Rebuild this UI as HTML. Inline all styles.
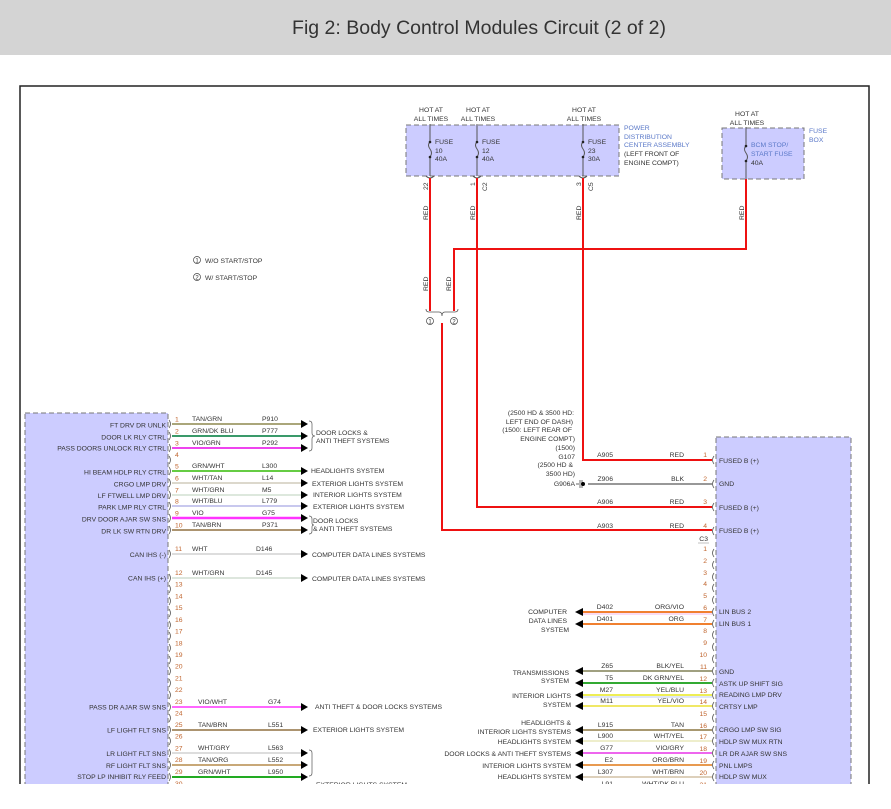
<!DOCTYPE html>
<html><head><meta charset="utf-8"><style>
html,body{margin:0;padding:0;background:#fff;width:891px;height:809px;overflow:hidden}
svg text{font-family:"Liberation Sans",Arial,sans-serif;font-size:6.8px;fill:#333}
.pn{fill:#c0652e}
.bl{fill:#5a78c8}
.e{text-anchor:end}
</style></head><body>
<svg width="891" height="809" viewBox="0 0 891 809" xmlns="http://www.w3.org/2000/svg">
<rect x="0" y="0" width="891" height="55" fill="#d4d4d4"/>
<text x="479" y="34" text-anchor="middle" style="font-size:19.5px;fill:#333">Fig 2: Body Control Modules Circuit (2 of 2)</text>
<path d="M20,789 V86 H869 V789" fill="none" stroke="#222" stroke-width="1.5"/>

<rect x="406" y="125" width="213" height="51" fill="#ccccff" stroke="#777" stroke-dasharray="5,3"/>
<rect x="722" y="128" width="82" height="51" fill="#ccccff" stroke="#777" stroke-dasharray="5,3"/>
<g stroke="#555" stroke-width="1" fill="none">
<path d="M430,124 V142 M430,157 V176 M430,142 q-3,3 0,7 q3,4 0,8"/>
<path d="M477,124 V142 M477,157 V176 M477,142 q-3,3 0,7 q3,4 0,8"/>
<path d="M583,124 V142 M583,157 V176 M583,142 q-3,3 0,7 q3,4 0,8"/>
<path d="M746,127 V146 M746,161 V180 M746,146 q-3,3 0,7 q3,4 0,8"/>
<path d="M426,176 q4,4 8,0 M473,176 q4,4 8,0 M579,176 q4,4 8,0"/>
</g>
<g fill="#222"><circle cx="430" cy="142" r="1.3"/><circle cx="430" cy="157" r="1.3"/><circle cx="477" cy="142" r="1.3"/><circle cx="477" cy="157" r="1.3"/><circle cx="583" cy="142" r="1.3"/><circle cx="583" cy="157" r="1.3"/><circle cx="746" cy="146" r="1.3"/><circle cx="746" cy="161" r="1.3"/></g>
<text x="431" y="112" text-anchor="middle">HOT AT</text><text x="431" y="121" text-anchor="middle">ALL TIMES</text>
<text x="478" y="112" text-anchor="middle">HOT AT</text><text x="478" y="121" text-anchor="middle">ALL TIMES</text>
<text x="584" y="112" text-anchor="middle">HOT AT</text><text x="584" y="121" text-anchor="middle">ALL TIMES</text>
<text x="747" y="116" text-anchor="middle">HOT AT</text><text x="747" y="125" text-anchor="middle">ALL TIMES</text>
<text x="435" y="144">FUSE</text><text x="435" y="153">10</text><text x="435" y="161">40A</text>
<text x="482" y="144">FUSE</text><text x="482" y="153">12</text><text x="482" y="161">40A</text>
<text x="588" y="144">FUSE</text><text x="588" y="153">23</text><text x="588" y="161">30A</text>
<text x="751" y="147" class="bl">BCM STOP/</text><text x="751" y="156" class="bl">START FUSE</text><text x="751" y="165">40A</text>
<text x="624" y="130" class="bl">POWER</text><text x="624" y="139" class="bl">DISTRIBUTION</text><text x="624" y="147" class="bl">CENTER ASSEMBLY</text><text x="624" y="156">(LEFT FRONT OF</text><text x="624" y="165">ENGINE COMPT)</text>
<text x="809" y="133" class="bl">FUSE</text><text x="809" y="142" class="bl">BOX</text>
<g style="font-size:6.5px">
<text transform="translate(428,190) rotate(-90)">22</text>
<text transform="translate(475,186) rotate(-90)">1</text>
<text transform="translate(487,191) rotate(-90)">C2</text>
<text transform="translate(581,186) rotate(-90)">3</text>
<text transform="translate(593,191) rotate(-90)">C5</text>
<text transform="translate(428,220) rotate(-90)">RED</text>
<text transform="translate(475,220) rotate(-90)">RED</text>
<text transform="translate(581,220) rotate(-90)">RED</text>
<text transform="translate(744,220) rotate(-90)">RED</text>
<text transform="translate(428,291) rotate(-90)">RED</text>
<text transform="translate(451,291) rotate(-90)">RED</text>
</g>

<g stroke="#ee1111" stroke-width="2" fill="none">
<path d="M430,178 V311"/>
<path d="M746,179 V249 H454 V311"/>
<path d="M442,323 V530 H712"/>
<path d="M477,178 V507 H712"/>
<path d="M583,178 V460 H712"/>
</g>
<path d="M426,309 q0,3 3,3 h10 q3,0 3,4 q0,-4 3,-4 h10 q3,0 3,-3" fill="none" stroke="#555" stroke-width="0.8"/>
<circle cx="430" cy="321" r="3.5" fill="#fff" stroke="#444" stroke-width="0.7"/><text x="430" y="323.5" text-anchor="middle" style="font-size:6px">1</text>
<circle cx="454" cy="321" r="3.5" fill="#fff" stroke="#444" stroke-width="0.7"/><text x="454" y="323.5" text-anchor="middle" style="font-size:6px">2</text>
<circle cx="197" cy="260" r="3.5" fill="#fff" stroke="#444" stroke-width="0.7"/><text x="197" y="262.5" text-anchor="middle" style="font-size:6px">1</text>
<text x="205" y="263">W/O START/STOP</text>
<circle cx="197" cy="277" r="3.5" fill="#fff" stroke="#444" stroke-width="0.7"/><text x="197" y="279.5" text-anchor="middle" style="font-size:6px">2</text>
<text x="205" y="280">W/ START/STOP</text>

<rect x="25" y="413" width="143" height="380" fill="#ccccff" stroke="#777" stroke-dasharray="5,3"/>
<rect x="716" y="437" width="135" height="356" fill="#ccccff" stroke="#777" stroke-dasharray="5,3"/>

<g stroke-width="2" fill="none">
<path d="M172,424 H302" stroke="#aaa67a"/>
<path d="M172,436 H302" stroke="#3a9a6a"/>
<path d="M172,448 H302" stroke="#ee44ee"/>
<path d="M172,471 H302" stroke="#66cc44"/>
<path d="M172,483 H302" stroke="#dcd8cc"/>
<path d="M172,495 H302" stroke="#dde8dd"/>
<path d="M172,506 H302" stroke="#c8c8ee"/>
<path d="M172,518 H302" stroke="#ff33ff" stroke-width="2.5"/>
<path d="M172,530 H302" stroke="#ac9470"/>
<path d="M172,554 H302" stroke="#dddddd"/>
<path d="M172,578 H302" stroke="#dde6dd"/>
<path d="M172,707 H302" stroke="#ff66ff"/>
<path d="M172,730 H302" stroke="#ac9470"/>
<path d="M172,753 H302" stroke="#dddddd"/>
<path d="M172,765 H302" stroke="#c8a878"/>
<path d="M172,777 H302" stroke="#22aa22"/>
</g>
<g fill="#000">
<polygon points="301,420 308,424 301,428"/><polygon points="301,432 308,436 301,440"/><polygon points="301,444 308,448 301,452"/>
<polygon points="301,467 308,471 301,475"/><polygon points="301,479 308,483 301,487"/><polygon points="301,491 308,495 301,499"/>
<polygon points="301,502 308,506 301,510"/><polygon points="301,514 308,518 301,522"/><polygon points="301,526 308,530 301,534"/>
<polygon points="301,550 308,554 301,558"/><polygon points="301,574 308,578 301,582"/><polygon points="301,703 308,707 301,711"/>
<polygon points="301,726 308,730 301,734"/><polygon points="301,749 308,753 301,757"/><polygon points="301,761 308,765 301,769"/><polygon points="301,773 308,777 301,781"/>
</g>
<path d="M309,421 q3,0 3,3 v9 q0,3 3,3 q-3,0 -3,3 v9 q0,3 -3,3 M309,516 q3,0 3,3 v4 q0,2 2,2 q-2,0 -2,2 v4 q0,3 -3,3 M309,750 q3,0 3,3 v20 q0,3 -3,3" fill="none" stroke="#555" stroke-width="0.7"/>

<g fill="none" stroke="#555" stroke-width="0.8">
<path d="M169,420 q3,4 0,8 M169,432 q3,4 0,8 M169,444 q3,4 0,8 M169,456 q3,4 0,8 M169,467 q3,4 0,8 M169,479 q3,4 0,8 M169,491 q3,4 0,8 M169,502 q3,4 0,8 M169,514 q3,4 0,8 M169,526 q3,4 0,8 M169,550 q3,4 0,8 M169,574 q3,4 0,8 M169,585 q3,4 0,8 M169,597 q3,4 0,8 M169,609 q3,4 0,8 M169,621 q3,4 0,8 M169,632 q3,4 0,8 M169,644 q3,4 0,8 M169,656 q3,4 0,8 M169,667 q3,4 0,8 M169,679 q3,4 0,8 M169,691 q3,4 0,8 M169,703 q3,4 0,8 M169,714 q3,4 0,8 M169,726 q3,4 0,8 M169,737 q3,4 0,8 M169,749 q3,4 0,8 M169,761 q3,4 0,8 M169,773 q3,4 0,8 M169,785 q3,4 0,8"/>
</g>
<g>
<text x="175" y="421.5" class="pn">1</text><text x="175" y="433.5" class="pn">2</text><text x="175" y="445.5" class="pn">3</text><text x="175" y="457" class="pn">4</text>
<text x="175" y="468.5" class="pn">5</text><text x="175" y="480.5" class="pn">6</text><text x="175" y="492.5" class="pn">7</text><text x="175" y="503.5" class="pn">8</text>
<text x="175" y="515.5" class="pn">9</text><text x="175" y="527.5" class="pn">10</text><text x="175" y="551" class="pn">11</text><text x="175" y="575" class="pn">12</text>
<text x="175" y="586.5" class="pn">13</text><text x="175" y="598.5" class="pn">14</text><text x="175" y="610" class="pn">15</text><text x="175" y="622" class="pn">16</text>
<text x="175" y="633.5" class="pn">17</text><text x="175" y="645.5" class="pn">18</text><text x="175" y="657" class="pn">19</text><text x="175" y="668.5" class="pn">20</text>
<text x="175" y="680.5" class="pn">21</text><text x="175" y="692" class="pn">22</text><text x="175" y="704" class="pn">23</text><text x="175" y="715.5" class="pn">24</text>
<text x="175" y="727" class="pn">25</text><text x="175" y="738.5" class="pn">26</text><text x="175" y="750.5" class="pn">27</text><text x="175" y="762" class="pn">28</text>
<text x="175" y="774" class="pn">29</text><text x="175" y="786" class="pn">30</text>
</g>
<g>
<text x="192" y="421">TAN/GRN</text><text x="262" y="421">P910</text>
<text x="192" y="433">GRN/DK BLU</text><text x="262" y="433">P777</text>
<text x="192" y="445">VIO/GRN</text><text x="262" y="445">P292</text>
<text x="192" y="468">GRN/WHT</text><text x="262" y="468">L300</text>
<text x="192" y="480">WHT/TAN</text><text x="262" y="480">L14</text>
<text x="192" y="492">WHT/GRN</text><text x="262" y="492">M5</text>
<text x="192" y="503">WHT/BLU</text><text x="262" y="503">L779</text>
<text x="192" y="515">VIO</text><text x="262" y="515">G75</text>
<text x="192" y="527">TAN/BRN</text><text x="262" y="527">P371</text>
<text x="192" y="551">WHT</text><text x="256" y="551">D146</text>
<text x="192" y="575">WHT/GRN</text><text x="256" y="575">D145</text>
<text x="198" y="704">VIO/WHT</text><text x="268" y="704">G74</text>
<text x="198" y="727">TAN/BRN</text><text x="268" y="727">L551</text>
<text x="198" y="750">WHT/GRY</text><text x="268" y="750">L563</text>
<text x="198" y="762">TAN/ORG</text><text x="268" y="762">L552</text>
<text x="198" y="774">GRN/WHT</text><text x="268" y="774">L950</text>
</g>
<g>
<text x="166" y="427.5" class="e">FT DRV DR UNLK</text>
<text x="166" y="439.5" class="e">DOOR LK RLY CTRL</text>
<text x="166" y="450.5" class="e">PASS DOORS UNLOCK RLY CTRL</text>
<text x="166" y="474.5" class="e">HI BEAM HDLP RLY CTRL</text>
<text x="166" y="486.5" class="e">CRGO LMP DRV</text>
<text x="166" y="498" class="e">LF FTWELL LMP DRV</text>
<text x="166" y="509.5" class="e">PARK LMP RLY CTRL</text>
<text x="166" y="521.5" class="e">DRV DOOR AJAR SW SNS</text>
<text x="166" y="533.5" class="e">DR LK SW RTN DRV</text>
<text x="166" y="557" class="e">CAN IHS (-)</text>
<text x="166" y="580.5" class="e">CAN IHS (+)</text>
<text x="166" y="709.5" class="e">PASS DR AJAR SW SNS</text>
<text x="166" y="732.5" class="e">LF LIGHT FLT SNS</text>
<text x="166" y="756" class="e">LR LIGHT FLT SNS</text>
<text x="166" y="768" class="e">RF LIGHT FLT SNS</text>
<text x="166" y="779" class="e">STOP LP INHIBIT RLY FEED</text>
</g>
<text x="316" y="435">DOOR LOCKS &amp;</text><text x="316" y="443">ANTI THEFT SYSTEMS</text>
<text x="311" y="473">HEADLIGHTS SYSTEM</text>
<text x="312" y="486">EXTERIOR LIGHTS SYSTEM</text>
<text x="313" y="497">INTERIOR LIGHTS SYSTEM</text>
<text x="313" y="509">EXTERIOR LIGHTS SYSTEM</text>
<text x="313" y="523">DOOR LOCKS</text><text x="313" y="531">&amp; ANTI THEFT SYSTEMS</text>
<text x="312" y="557">COMPUTER DATA LINES SYSTEMS</text>
<text x="312" y="581">COMPUTER DATA LINES SYSTEMS</text>
<text x="315" y="709">ANTI THEFT &amp; DOOR LOCKS SYSTEMS</text>
<text x="313" y="732">EXTERIOR LIGHTS SYSTEM</text>
<text x="316" y="787">EXTERIOR LIGHTS SYSTEM</text>

<text x="574" y="415" class="e">(2500 HD &amp; 3500 HD:</text>
<text x="573" y="424" class="e">LEFT END OF DASH)</text>
<text x="572" y="432" class="e">(1500: LEFT REAR OF</text>
<text x="575" y="441" class="e">ENGINE COMPT)</text>
<text x="575" y="450" class="e">(1500)</text>
<text x="575" y="459" class="e">G107</text>
<text x="573" y="467" class="e">(2500 HD &amp;</text>
<text x="575" y="476" class="e">3500 HD)</text>
<text x="575" y="486" class="e">G906A</text>
<path d="M576,484 h3 M580,480 v8 M582,480 v8" stroke="#333" stroke-width="0.7"/>
<circle cx="583" cy="484" r="2" fill="#000"/>
<path d="M588,484 H712" stroke="#777" stroke-width="1.5"/>

<g stroke-width="2" fill="none">
<path d="M583,612 H712" stroke="#f08030"/><path d="M583,614 H712" stroke="#f0a0e0" stroke-width="0.8"/>
<path d="M583,624 H712" stroke="#f08030"/>
<path d="M583,671 H712" stroke="#a0a080"/>
<path d="M583,683 H712" stroke="#33aa33"/>
<path d="M583,695 H712" stroke="#eeee55"/><path d="M583,697 H712" stroke="#aabbee" stroke-width="0.8"/>
<path d="M583,706 H712" stroke="#f0e866"/>
<path d="M583,730 H712" stroke="#a89870"/>
<path d="M583,741 H712" stroke="#eeeecc"/>
<path d="M583,753 H712" stroke="#ee66ee"/>
<path d="M583,765 H712" stroke="#e89a50"/>
<path d="M583,777 H712" stroke="#ddd0bb"/>
</g>
<g fill="#000">
<polygon points="583,608 575,612 583,616"/><polygon points="583,620 575,624 583,628"/>
<polygon points="583,667 575,671 583,675"/><polygon points="583,679 575,683 583,687"/>
<polygon points="583,691 575,695 583,699"/><polygon points="583,702 575,706 583,710"/>
<polygon points="583,726 575,730 583,734"/><polygon points="583,737 575,741 583,745"/>
<polygon points="583,749 575,753 583,757"/><polygon points="583,761 575,765 583,769"/><polygon points="583,773 575,777 583,781"/>
</g>
<g fill="none" stroke="#555" stroke-width="0.8">
<path d="M714,456 q-3,4 0,8 M714,480 q-3,4 0,8 M714,503 q-3,4 0,8 M714,527 q-3,4 0,8"/>
<path d="M714,549 q-3,4 0,8 M714,561 q-3,4 0,8 M714,573 q-3,4 0,8 M714,584 q-3,4 0,8 M714,596 q-3,4 0,8 M714,608 q-3,4 0,8 M714,620 q-3,4 0,8 M714,631 q-3,4 0,8 M714,643 q-3,4 0,8 M714,655 q-3,4 0,8 M714,667 q-3,4 0,8 M714,679 q-3,4 0,8 M714,691 q-3,4 0,8 M714,702 q-3,4 0,8 M714,714 q-3,4 0,8 M714,726 q-3,4 0,8 M714,737 q-3,4 0,8 M714,749 q-3,4 0,8 M714,761 q-3,4 0,8 M714,773 q-3,4 0,8 M714,785 q-3,4 0,8"/>
</g>
<g>
<text x="707" y="457" class="pn e">1</text><text x="707" y="481" class="pn e">2</text><text x="707" y="504" class="pn e">3</text><text x="707" y="528" class="pn e">4</text>
<text x="708" y="541" class="e">C3</text><path d="M698,543 h11" stroke="#999" stroke-width="0.6"/>
<text x="707" y="551" class="pn e">1</text><text x="707" y="563" class="pn e">2</text><text x="707" y="575" class="pn e">3</text><text x="707" y="586" class="pn e">4</text>
<text x="707" y="598" class="pn e">5</text><text x="707" y="610" class="pn e">6</text><text x="707" y="622" class="pn e">7</text><text x="707" y="633" class="pn e">8</text>
<text x="707" y="645" class="pn e">9</text><text x="707" y="657" class="pn e">10</text><text x="707" y="669" class="pn e">11</text><text x="707" y="681" class="pn e">12</text>
<text x="707" y="693" class="pn e">13</text><text x="707" y="704" class="pn e">14</text><text x="707" y="716" class="pn e">15</text><text x="707" y="728" class="pn e">16</text>
<text x="707" y="739" class="pn e">17</text><text x="707" y="751" class="pn e">18</text><text x="707" y="763" class="pn e">19</text><text x="707" y="775" class="pn e">20</text><text x="707" y="787" class="pn e">21</text>
</g>
<g>
<text x="613" y="457" class="e">A905</text><text x="684" y="457" class="e">RED</text>
<text x="613" y="481" class="e">Z906</text><text x="684" y="481" class="e">BLK</text>
<text x="613" y="504" class="e">A906</text><text x="684" y="504" class="e">RED</text>
<text x="613" y="528" class="e">A903</text><text x="684" y="528" class="e">RED</text>
<text x="613" y="609" class="e">D402</text><text x="684" y="609" class="e">ORG/VIO</text>
<text x="613" y="621" class="e">D401</text><text x="684" y="621" class="e">ORG</text>
<text x="613" y="668" class="e">Z65</text><text x="684" y="668" class="e">BLK/YEL</text>
<text x="613" y="680" class="e">T5</text><text x="684" y="680" class="e">DK GRN/YEL</text>
<text x="613" y="692" class="e">M27</text><text x="684" y="692" class="e">YEL/BLU</text>
<text x="613" y="703" class="e">M11</text><text x="684" y="703" class="e">YEL/VIO</text>
<text x="613" y="727" class="e">L915</text><text x="684" y="727" class="e">TAN</text>
<text x="613" y="738" class="e">L900</text><text x="684" y="738" class="e">WHT/YEL</text>
<text x="613" y="750" class="e">G77</text><text x="684" y="750" class="e">VIO/GRY</text>
<text x="613" y="762" class="e">E2</text><text x="684" y="762" class="e">ORG/BRN</text>
<text x="613" y="774" class="e">L307</text><text x="684" y="774" class="e">WHT/BRN</text>
<text x="613" y="786" class="e">L91</text><text x="684" y="786" class="e">WHT/DK BLU</text>
</g>
<g>
<text x="719" y="463">FUSED B (+)</text>
<text x="719" y="486">GND</text>
<text x="719" y="510">FUSED B (+)</text>
<text x="719" y="533">FUSED B (+)</text>
<text x="719" y="614">LIN BUS 2</text>
<text x="719" y="626">LIN BUS 1</text>
<text x="719" y="674">GND</text>
<text x="719" y="686">ASTK UP SHIFT SIG</text>
<text x="719" y="697">READING LMP DRV</text>
<text x="719" y="709">CRTSY LMP</text>
<text x="719" y="732">CRGO LMP SW SIG</text>
<text x="719" y="744">HDLP SW MUX RTN</text>
<text x="719" y="756">LR DR AJAR SW SNS</text>
<text x="719" y="768">PNL LMPS</text>
<text x="719" y="779">HDLP SW MUX</text>
</g>
<g>
<text x="567" y="614" class="e">COMPUTER</text>
<text x="567" y="623" class="e">DATA LINES</text>
<text x="569" y="632" class="e">SYSTEM</text>
<text x="569" y="675" class="e">TRANSMISSIONS</text>
<text x="569" y="683" class="e">SYSTEM</text>
<text x="571" y="698" class="e">INTERIOR LIGHTS</text>
<text x="571" y="707" class="e">SYSTEM</text>
<text x="571" y="725" class="e">HEADLIGHTS &amp;</text>
<text x="571" y="734" class="e">INTERIOR LIGHTS SYSTEMS</text>
<text x="571" y="744" class="e">HEADLIGHTS SYSTEM</text>
<text x="571" y="756" class="e">DOOR LOCKS &amp; ANTI THEFT SYSTEMS</text>
<text x="571" y="768" class="e">INTERIOR LIGHTS SYSTEM</text>
<text x="571" y="779" class="e">HEADLIGHTS SYSTEM</text>
</g>
<rect x="0" y="784" width="891" height="25" fill="#fff"/>
</svg>
</body></html>
